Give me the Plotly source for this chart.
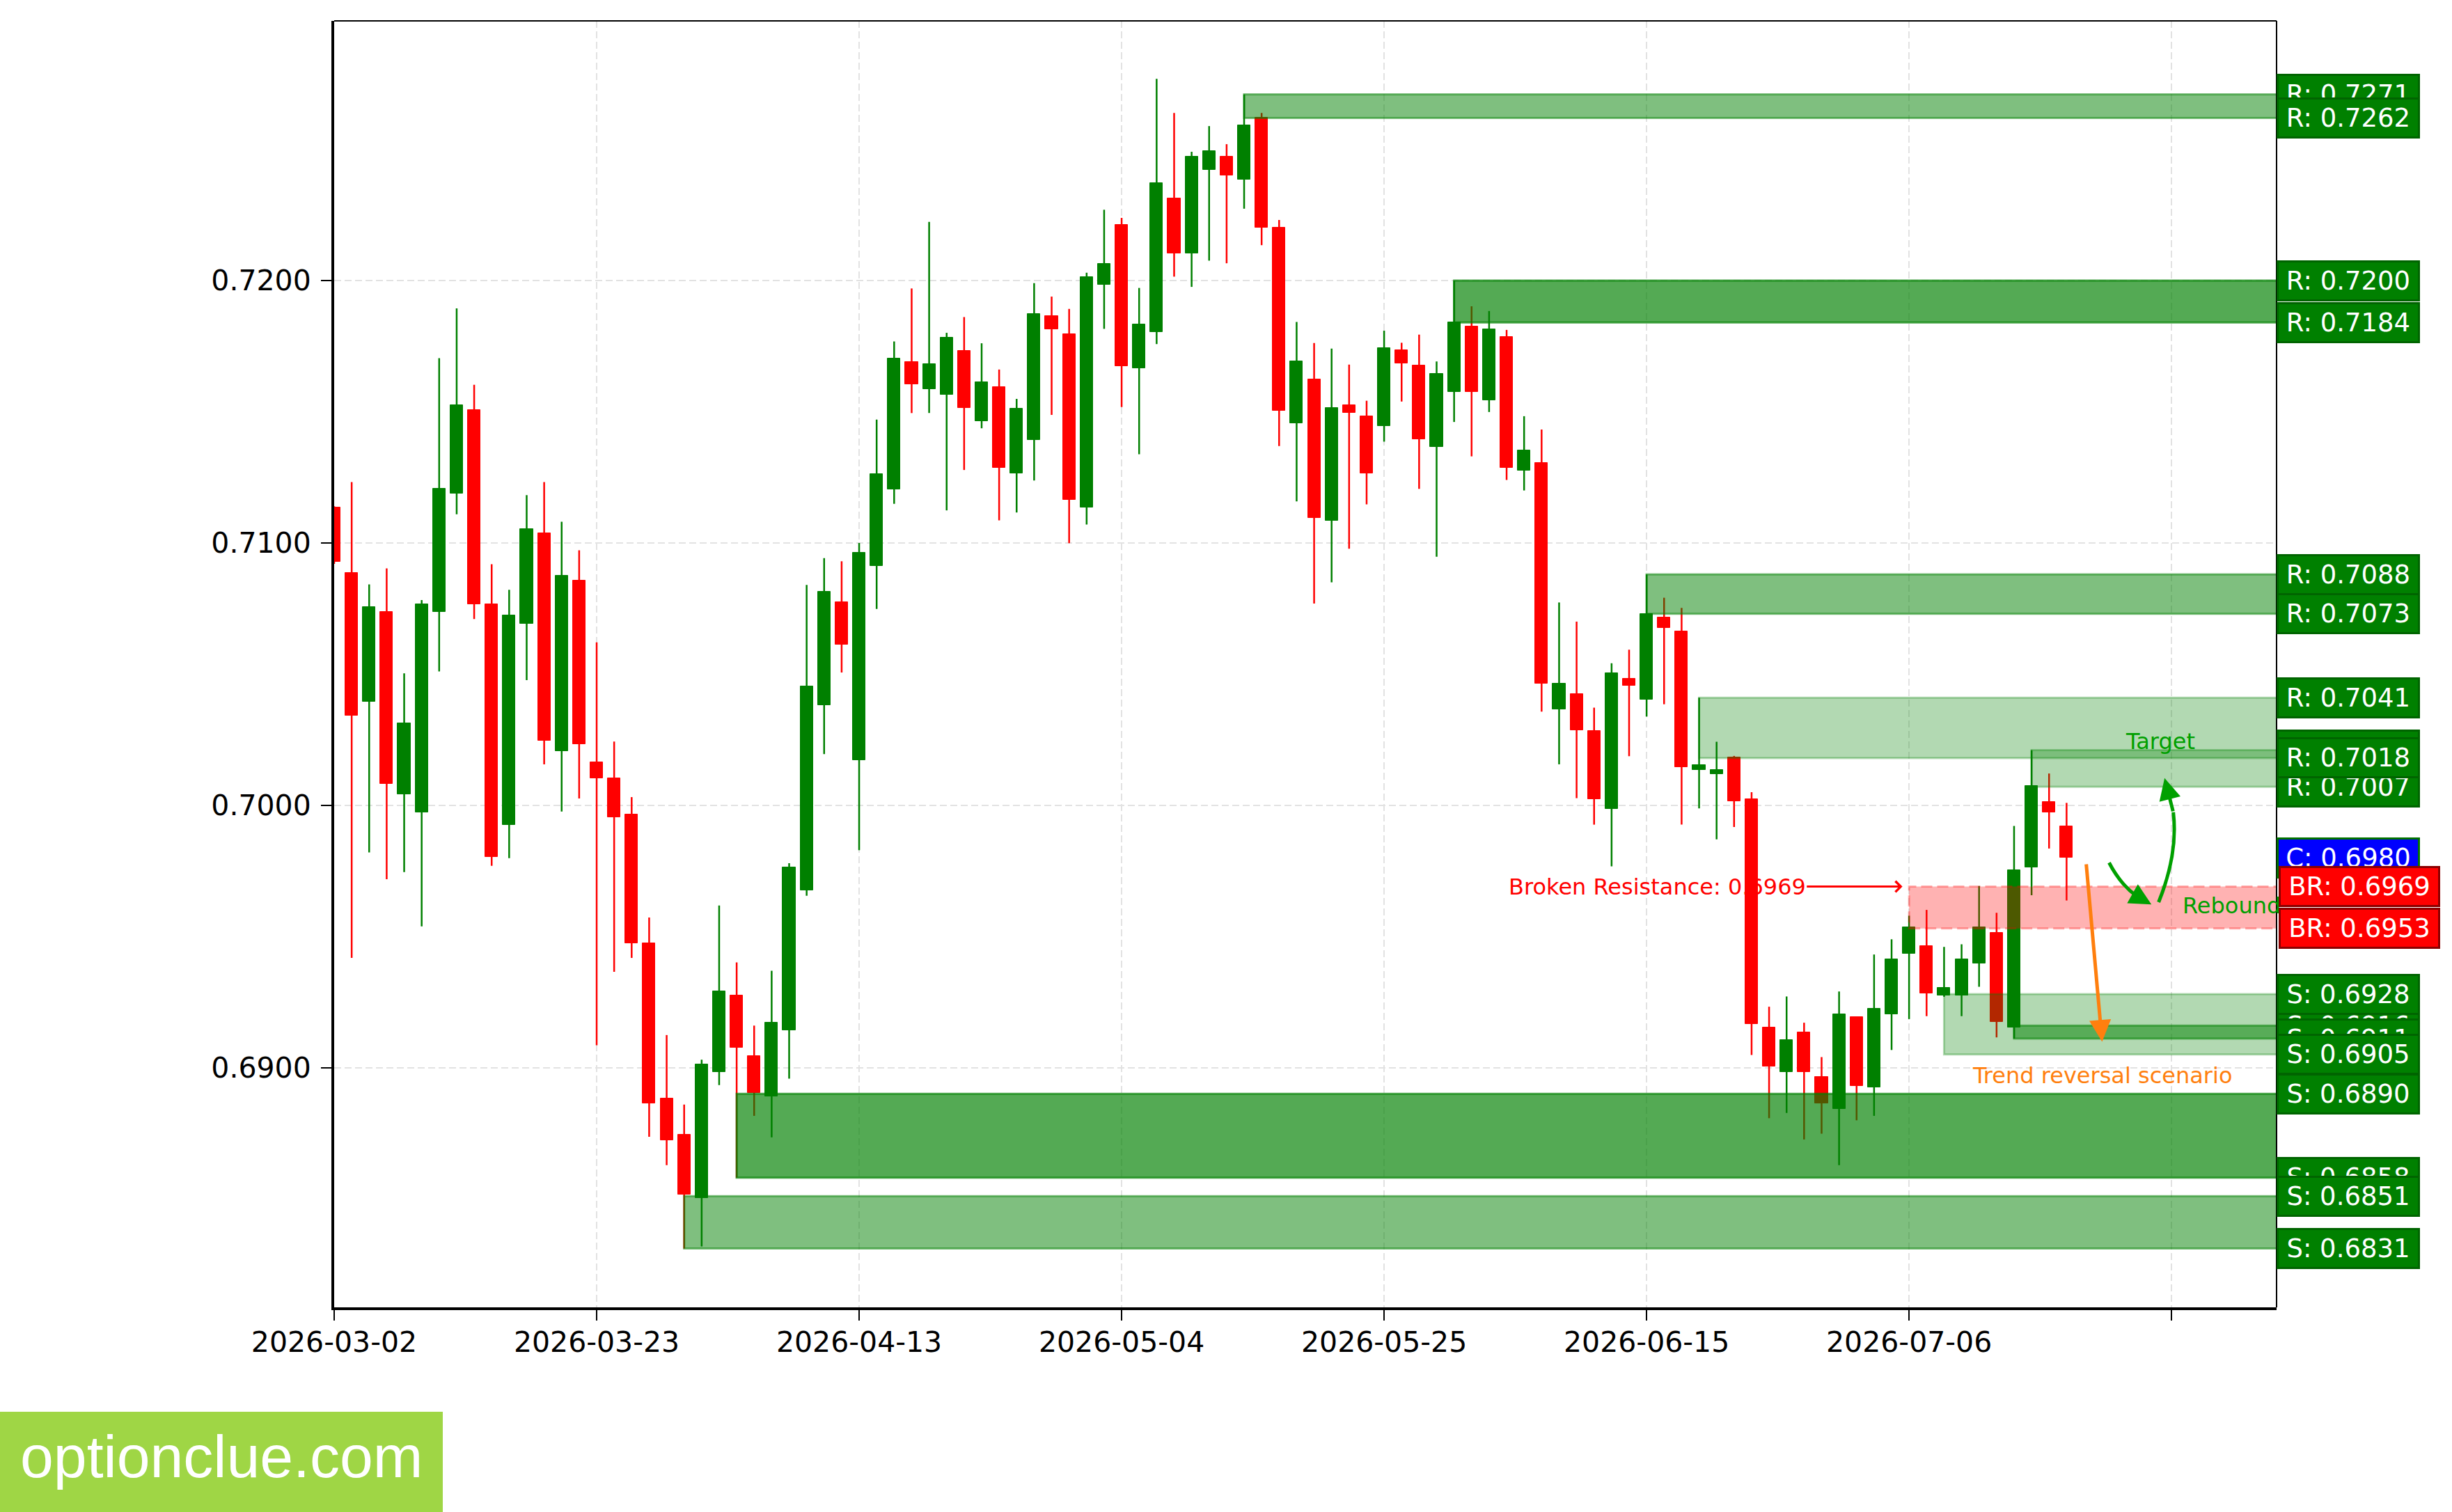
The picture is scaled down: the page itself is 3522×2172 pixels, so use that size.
import plotly.graph_objects as go
import pandas as pd

# ---------------- data ----------------
dates = pd.bdate_range("2026-03-02", periods=100)

opens = [0.71136, 0.70886, 0.70395, 0.70736, 0.70043, 0.69974, 0.70736, 0.71189, 0.71507, 0.70765,
         0.69925, 0.70693, 0.71037, 0.70205, 0.70857, 0.70164, 0.70103, 0.69966, 0.69473, 0.68883,
         0.68744, 0.68502, 0.68983, 0.69274, 0.69043, 0.68891, 0.69142, 0.69675, 0.70382, 0.70773,
         0.70173, 0.70912, 0.71203, 0.71691, 0.71587, 0.71564, 0.71731, 0.71465, 0.71594, 0.71266,
         0.71393, 0.71864, 0.71795, 0.71136, 0.71984, 0.72212, 0.71666, 0.71803, 0.72314, 0.72103,
         0.72423, 0.72472, 0.72384, 0.72620, 0.72201, 0.71455, 0.71624, 0.71085, 0.71524, 0.71484,
         0.71445, 0.71734, 0.71676, 0.71366, 0.71576, 0.71824, 0.71544, 0.71786, 0.71277, 0.71304,
         0.70366, 0.70425, 0.70283, 0.69986, 0.70483, 0.70404, 0.70715, 0.70663, 0.70135, 0.70118,
         0.70182, 0.70023, 0.69153, 0.68984, 0.69134, 0.68964, 0.68843, 0.69192, 0.68925, 0.69204,
         0.69435, 0.69463, 0.69274, 0.69274, 0.69396, 0.69514, 0.69154, 0.69763, 0.70012, 0.69921]

highs = [0.71140, 0.71232, 0.70842, 0.70903, 0.70503, 0.70782, 0.71704, 0.71894, 0.71603, 0.70919,
         0.70821, 0.71182, 0.71232, 0.71081, 0.70972, 0.70621, 0.70243, 0.70031, 0.69572, 0.69124,
         0.68859, 0.69030, 0.69618, 0.69401, 0.69160, 0.69369, 0.69779, 0.70840, 0.70942, 0.70930,
         0.71000, 0.71470, 0.71768, 0.71970, 0.72224, 0.71801, 0.71861, 0.71761, 0.71661, 0.71549,
         0.71990, 0.71939, 0.71892, 0.72030, 0.72270, 0.72239, 0.71972, 0.72769, 0.72639, 0.72491,
         0.72589, 0.72520, 0.72710, 0.72639, 0.72231, 0.71842, 0.71762, 0.71741, 0.71680, 0.71542,
         0.71809, 0.71763, 0.71794, 0.71692, 0.72000, 0.71902, 0.71884, 0.71812, 0.71483, 0.71432,
         0.70773, 0.70700, 0.70372, 0.70541, 0.70593, 0.70880, 0.70791, 0.70752, 0.70410, 0.70242,
         0.70188, 0.70050, 0.69232, 0.69271, 0.69171, 0.69040, 0.69290, 0.69192, 0.69431, 0.69489,
         0.69579, 0.69601, 0.69460, 0.69470, 0.69692, 0.69590, 0.69921, 0.70210, 0.70121, 0.70009]

lows = [0.70920, 0.69418, 0.69820, 0.69718, 0.69745, 0.69538, 0.70510, 0.71109, 0.70710, 0.69769,
        0.69798, 0.70477, 0.70156, 0.69976, 0.70026, 0.69085, 0.69365, 0.69418, 0.68736, 0.68628,
        0.68310, 0.68318, 0.68933, 0.68580, 0.68816, 0.68734, 0.68958, 0.69655, 0.70195, 0.70506,
        0.69829, 0.70748, 0.71149, 0.71495, 0.71495, 0.71124, 0.71278, 0.71437, 0.71086, 0.71116,
        0.71238, 0.71488, 0.70999, 0.71070, 0.71816, 0.71518, 0.71338, 0.71758, 0.72015, 0.71976,
        0.72076, 0.72066, 0.72274, 0.72135, 0.71369, 0.71158, 0.70769, 0.70850, 0.70978, 0.71147,
        0.71386, 0.71539, 0.71206, 0.70947, 0.71461, 0.71330, 0.71499, 0.71240, 0.71200, 0.70357,
        0.70156, 0.70027, 0.69926, 0.69767, 0.70187, 0.70338, 0.70385, 0.69926, 0.69988, 0.69870,
        0.69917, 0.69048, 0.68807, 0.68827, 0.68726, 0.68748, 0.68628, 0.68799, 0.68816, 0.69067,
        0.69185, 0.69196, 0.69270, 0.69196, 0.69308, 0.69115, 0.69110, 0.69657, 0.69835, 0.69637]

closes = [0.70927, 0.70342, 0.70756, 0.70082, 0.70313, 0.70765, 0.71206, 0.71526, 0.70765, 0.69803,
          0.70724, 0.71054, 0.70245, 0.70874, 0.70233, 0.70103, 0.69954, 0.69473, 0.68864, 0.68724,
          0.68515, 0.69013, 0.69292, 0.69075, 0.68903, 0.69172, 0.69762, 0.70452, 0.70813, 0.70613,
          0.70962, 0.71263, 0.71704, 0.71604, 0.71681, 0.71783, 0.71515, 0.71612, 0.71286, 0.71512,
          0.71873, 0.71814, 0.71165, 0.72014, 0.72065, 0.71673, 0.71834, 0.72372, 0.72103, 0.72472,
          0.72493, 0.72400, 0.72592, 0.72203, 0.71504, 0.71693, 0.71096, 0.71514, 0.71495, 0.71265,
          0.71743, 0.71684, 0.71396, 0.71644, 0.71840, 0.71576, 0.71815, 0.71287, 0.71354, 0.70465,
          0.70464, 0.70285, 0.70024, 0.70504, 0.70456, 0.70730, 0.70676, 0.70145, 0.70153, 0.70135,
          0.70016, 0.69165, 0.69005, 0.69104, 0.68984, 0.68864, 0.69202, 0.68931, 0.69224, 0.69413,
          0.69534, 0.69283, 0.69304, 0.69413, 0.69534, 0.69174, 0.69752, 0.70073, 0.69974, 0.69800]

# support / resistance zones (low, high, starting candle index, kind, strength 1..3)
zone_lo = [0.7262, 0.7184, 0.7073, 0.7007, 0.7018, 0.6911, 0.6905, 0.6858, 0.6831]
zone_hi = [0.7271, 0.7200, 0.7088, 0.7021, 0.7041, 0.6916, 0.6928, 0.6890, 0.6851]
zone_start = [52, 64, 75, 97, 78, 96, 92, 23, 20]
zone_kind = ["R", "R", "R", "R", "R", "S", "S", "S", "S"]
zone_strength = [2, 3, 2, 1, 1, 2, 1, 3, 2]

# broken resistance zone
br_lo, br_hi, br_start = 0.6953, 0.6969, 90

tick_step = 15
y_ticks = [0.69, 0.70, 0.71, 0.72]

# ---------------- styles ----------------
GREEN = "#008000"
RED = "#ff0000"
ARROW_GREEN = "#00a000"
ORANGE = "#ff7f0e"
FONT = "DejaVu Sans"
alpha_of = {1: 0.3, 2: 0.5, 3: 0.67}

n = len(opens)
idx = list(range(n))
x_max = 111
y_lo = min(lows) - 0.00224
y_hi = max(highs) + 0.00221

fig = go.Figure()

# wicks
for up, col in ((True, GREEN), (False, RED)):
    xs, ys = [], []
    for i in idx:
        if (closes[i] >= opens[i]) == up:
            xs += [i, i, None]
            ys += [lows[i], highs[i], None]
    fig.add_trace(go.Scatter(x=xs, y=ys, mode="lines", line=dict(color=col, width=2.5),
                             hoverinfo="skip", showlegend=False))

# bodies
body_col = [GREEN if c >= o else RED for o, c in zip(opens, closes)]
fig.add_trace(go.Bar(x=idx, y=[abs(c - o) for o, c in zip(opens, closes)],
                     base=[min(o, c) for o, c in zip(opens, closes)],
                     width=0.72, marker=dict(color=body_col, line=dict(color=body_col, width=1)),
                     showlegend=False, hoverinfo="skip"))

shapes = []
# zones
for lo, hi, st, s in zip(zone_lo, zone_hi, zone_start, zone_strength):
    a = alpha_of[s]
    shapes.append(dict(type="rect", xref="x", yref="y", x0=st, x1=x_max + 5, y0=lo, y1=hi,
                       fillcolor=f"rgba(0,128,0,{a})", line=dict(color=f"rgba(0,128,0,{a})", width=3),
                       layer="above"))
shapes.append(dict(type="rect", xref="x", yref="y", x0=br_start, x1=x_max + 5, y0=br_lo, y1=br_hi,
                   fillcolor="rgba(255,0,0,0.3)",
                   line=dict(color="rgba(255,0,0,0.3)", width=3, dash="16px,7px"), layer="above"))

# curved scenario arrows (quadratic curves: start, control, tip)
curve1 = [(101.43, 0.697811), (102.35, 0.696636), (103.85, 0.696216)]
curve2 = [(104.26, 0.696304), (105.86, 0.698945), (104.60, 0.701037)]
orange_arrow = [(100.12, 0.69779), (101.03, 0.690987)]


def qpt(p0, c, p1, t):
    return ((1 - t) ** 2 * p0[0] + 2 * (1 - t) * t * c[0] + t * t * p1[0],
            (1 - t) ** 2 * p0[1] + 2 * (1 - t) * t * c[1] + t * t * p1[1])


arrow_heads = []
for p0, c, p1 in (curve1, curve2):
    t = 0.7
    cc = (p0[0] + t * (c[0] - p0[0]), p0[1] + t * (c[1] - p0[1]))
    e = qpt(p0, c, p1, t)
    shapes.append(dict(type="path", xref="x", yref="y",
                       path=f"M {p0[0]},{p0[1]} Q {cc[0]},{cc[1]} {e[0]},{e[1]}",
                       line=dict(color=ARROW_GREEN, width=5), layer="above"))
    arrow_heads.append((e, p1))

# frame top/right
shapes.append(dict(type="line", xref="paper", yref="paper", x0=0, x1=1, y0=1, y1=1,
                   line=dict(color="black", width=2)))
shapes.append(dict(type="line", xref="paper", yref="paper", x0=1, x1=1, y0=0, y1=1,
                   line=dict(color="black", width=2)))

# logo box
W, H = 3522, 2172
L, R, T, B = 480, 252, 30, 294
pw, ph = W - L - R, H - T - B
shapes.append(dict(type="rect", xref="paper", yref="paper",
                   x0=(0 - L) / pw, x1=(636 - L) / pw,
                   y0=(T + ph - H) / ph, y1=(T + ph - 2028) / ph,
                   fillcolor="#9fd645", line=dict(width=0), layer="above"))

annotations = []
# broken resistance annotation
annotations.append(dict(x=89.62, y=br_hi, ax=75.6, ay=br_hi, axref="x", ayref="y", xref="x", yref="y",
                        text=f"Broken Resistance: {br_hi:.4f}", showarrow=True, arrowhead=4,
                        arrowsize=1.0, arrowwidth=3, arrowcolor=RED, standoff=0,
                        font=dict(family=FONT, size=32, color=RED)))
for e, p1 in arrow_heads:
    annotations.append(dict(x=p1[0], y=p1[1], ax=e[0], ay=e[1], axref="x", ayref="y",
                            xref="x", yref="y", text="", showarrow=True, arrowhead=2,
                            arrowsize=1.25, arrowwidth=5, arrowcolor=ARROW_GREEN, standoff=0))
annotations.append(dict(x=orange_arrow[1][0], y=orange_arrow[1][1], ax=orange_arrow[0][0],
                        ay=orange_arrow[0][1], axref="x", ayref="y", xref="x", yref="y", text="",
                        showarrow=True, arrowhead=2, arrowsize=1.25, arrowwidth=5,
                        arrowcolor=ORANGE, standoff=0))
annotations.append(dict(x=104.34, y=0.70244, xref="x", yref="y", text="Target", showarrow=False,
                        font=dict(family=FONT, size=32, color=ARROW_GREEN)))
annotations.append(dict(x=105.55, y=0.69617, xref="x", yref="y", text="Rebound", showarrow=False,
                        xanchor="left", font=dict(family=FONT, size=32, color=ARROW_GREEN)))
annotations.append(dict(x=101.04, y=0.68971, xref="x", yref="y", text="Trend reversal scenario",
                        showarrow=False, font=dict(family=FONT, size=32, color=ORANGE)))


def level_label(y, text, bg, border, width, shift=0):
    return dict(x=1, xref="paper", y=y, yref="y", xanchor="left", yanchor="middle", xshift=shift,
                text=text, showarrow=False, bgcolor=bg, bordercolor=border, borderwidth=3,
                borderpad=5, width=width, align="center",
                font=dict(family=FONT, size=37, color="white"))


for lo, hi, k in zip(zone_lo, zone_hi, zone_kind):
    if k == "R":
        annotations.append(level_label(hi, f"R: {hi:.4f}", GREEN, "#006400", 190))
        annotations.append(level_label(lo, f"R: {lo:.4f}", GREEN, "#006400", 190))
annotations.append(level_label(closes[-1], f"C: {closes[-1]:.4f}", "#0000ff", "#007000", 190))
annotations.append(level_label(br_hi, f"BR: {br_hi:.4f}", RED, "#8b0000", 216, 3))
annotations.append(level_label(br_lo, f"BR: {br_lo:.4f}", RED, "#8b0000", 216, 3))
for lo, hi, k in zip(zone_lo, zone_hi, zone_kind):
    if k == "S":
        annotations.append(level_label(hi, f"S: {hi:.4f}", GREEN, "#006400", 190))
        annotations.append(level_label(lo, f"S: {lo:.4f}", GREEN, "#006400", 190))

# logo text
annotations.append(dict(x=(318 - L) / pw, y=(T + ph - 2092) / ph, xref="paper", yref="paper",
                        text="optionclue.com", showarrow=False, xanchor="center", yanchor="middle",
                        font=dict(family="Liberation Sans", size=86, color="white")))

tickvals = list(range(0, x_max, tick_step))
ticktext = [dates[v].strftime("%Y-%m-%d") if v < n else "" for v in tickvals]

axis_common = dict(showline=True, linecolor="black", linewidth=4, mirror=False,
                   ticks="outside", ticklen=15, tickwidth=2, tickcolor="black",
                   showgrid=True, gridcolor="#e2e2e2", gridwidth=2, griddash="10px,5px",
                   zeroline=False, tickfont=dict(family=FONT, size=41, color="black"))

fig.update_layout(
    width=W, height=H, margin=dict(l=L, r=R, t=T, b=B, autoexpand=False),
    paper_bgcolor="white", plot_bgcolor="white", showlegend=False,
    barmode="overlay", bargap=0,
    xaxis=dict(range=[0, x_max], tickmode="array", tickvals=tickvals, ticktext=ticktext,
               rangeslider=dict(visible=False), ticklabelstandoff=-4, **axis_common),
    yaxis=dict(range=[y_lo, y_hi], tickmode="array", tickvals=y_ticks, tickformat=".4f",
               ticklabelstandoff=6, **axis_common),
    shapes=shapes, annotations=annotations,
)

fig.write_html("out.html")
